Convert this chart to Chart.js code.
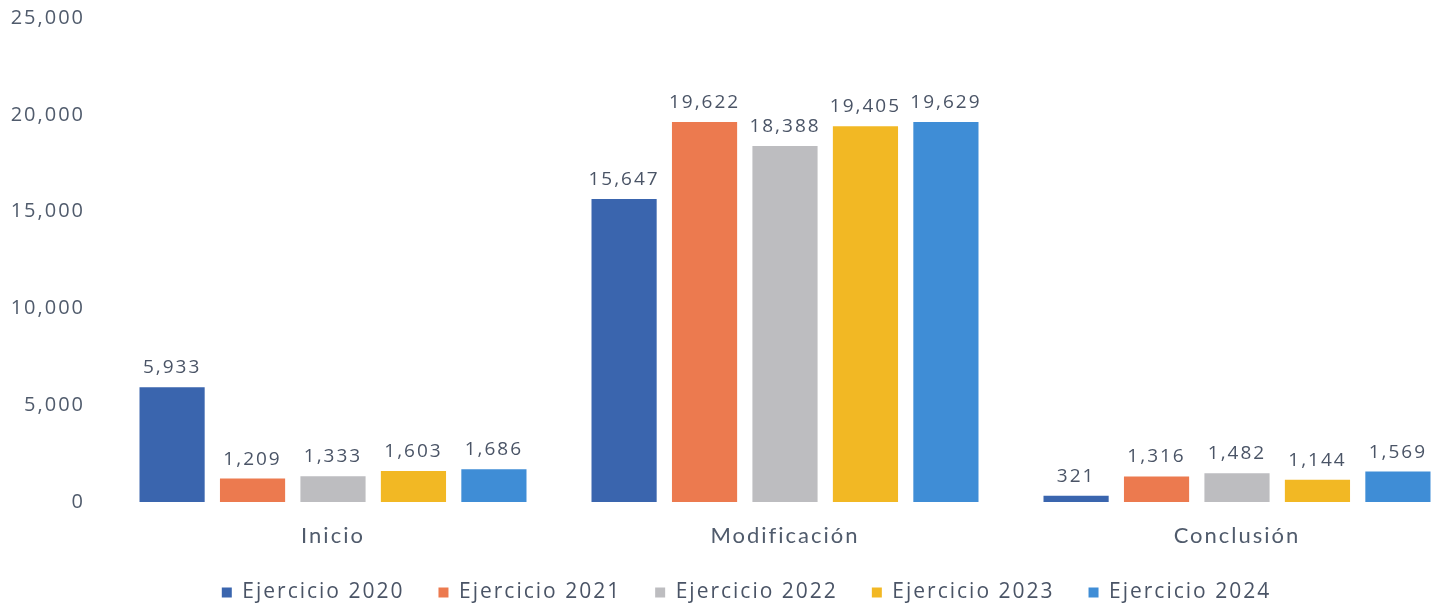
<!DOCTYPE html>
<html>
<head>
<meta charset="utf-8">
<script src="https://cdn.jsdelivr.net/npm/chart.js@4/dist/chart.umd.min.js"></script>
<style>
  html, body { margin: 0; padding: 0; background: #ffffff; overflow: hidden; }
  #wrap { position: relative; width: 1492px; height: 605px; }
</style>
</head>
<body>
<div id="wrap"><canvas id="c"></canvas></div>
<script>
const categories = ['Inicio', 'Modificación', 'Conclusión'];
const seriesNames = ['Ejercicio 2020', 'Ejercicio 2021', 'Ejercicio 2022', 'Ejercicio 2023', 'Ejercicio 2024'];
const values2020 = [5933, 15647, 321];
const values2021 = [1209, 19622, 1316];
const values2022 = [1333, 18388, 1482];
const values2023 = [1603, 19405, 1144];
const values2024 = [1686, 19629, 1569];
const seriesColors = ['#3a65ae', '#ec7a4f', '#bdbdc0', '#f2b824', '#3f8dd6'];
const yTicks = [0, 5000, 10000, 15000, 20000, 25000];

const allValues = [values2020, values2021, values2022, values2023, values2024];
const textColor = '#505b6c';
const SPACING = '2px';

const spacing = {
  id: 'spacing',
  beforeLayout(chart) { chart.ctx.letterSpacing = SPACING; },
  afterLayout(chart) {
    if (chart.legend) { chart.legend.left += 15; chart.legend.right += 15; }
  },
  beforeDraw(chart) { chart.ctx.letterSpacing = SPACING; }
};

const valueLabels = {
  id: 'valueLabels',
  afterDatasetsDraw(chart) {
    const ctx = chart.ctx;
    ctx.save();
    ctx.letterSpacing = SPACING;
    ctx.font = '19px "Open Sans", sans-serif';
    ctx.fillStyle = '#4a5466';
    ctx.textAlign = 'center';
    ctx.textBaseline = 'bottom';
    chart.data.datasets.forEach((ds, i) => {
      const meta = chart.getDatasetMeta(i);
      meta.data.forEach((el, j) => {
        ctx.fillText(ds.data[j].toLocaleString('en-US'), el.x, el.y - 10);
      });
    });
    ctx.restore();
  }
};

new Chart(document.getElementById('c'), {
  type: 'bar',
  data: {
    labels: categories,
    datasets: seriesNames.map((n, i) => ({
      label: n,
      data: allValues[i],
      backgroundColor: seriesColors[i],
      borderWidth: 0,
      categoryPercentage: 0.89,
      barPercentage: 0.81
    }))
  },
  options: {
    responsive: true,
    maintainAspectRatio: false,
    animation: false,
    layout: { padding: { top: 18, right: 29, bottom: -8, left: 0 } },
    plugins: {
      tooltip: { enabled: false },
      legend: {
        position: 'bottom',
        labels: {
          boxWidth: 10,
          boxHeight: 10,
          padding: 34,
          color: '#4a5466',
          font: { family: '"Open Sans", sans-serif', size: 21 }
        }
      }
    },
    scales: {
      x: {
        grid: { display: false, drawTicks: false },
        border: { display: false },
        afterFit(scale) { scale.height = 46; },
        ticks: {
          color: textColor,
          padding: 21,
          font: { family: 'Lato, sans-serif', size: 22 }
        }
      },
      y: {
        min: 0,
        max: 25000,
        afterBuildTicks(scale) { scale.ticks = yTicks.map(v => ({ value: v })); },
        afterFit(scale) { scale.width = 107; scale.paddingTop = 0; scale.paddingBottom = 0; },
        grid: { display: false, drawTicks: false },
        border: { display: false },
        ticks: {
          color: textColor,
          padding: 22,
          font: { family: '"Open Sans", sans-serif', size: 20 },
          callback: v => v.toLocaleString('en-US')
        }
      }
    }
  },
  plugins: [spacing, valueLabels]
});
</script>
</body>
</html>
